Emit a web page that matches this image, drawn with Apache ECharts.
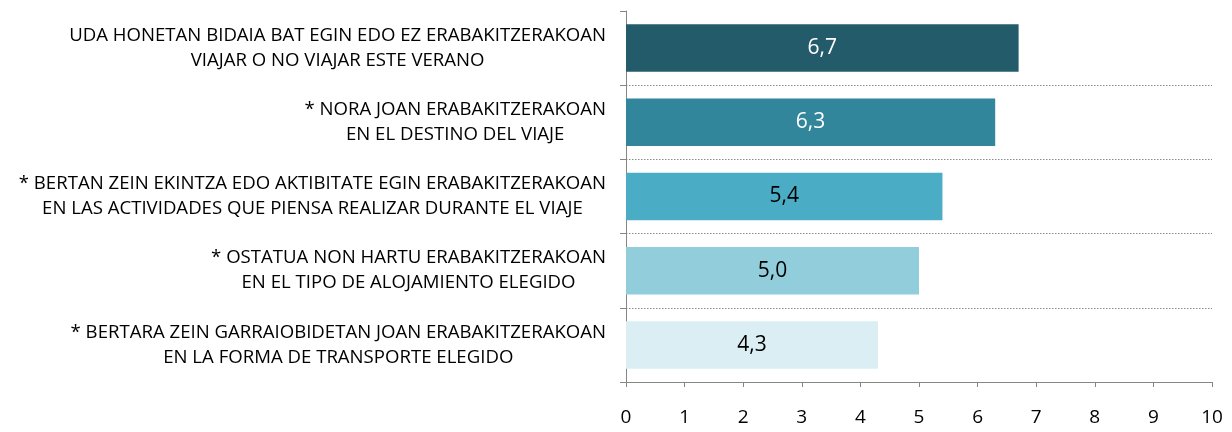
<!DOCTYPE html>
<html><head><meta charset="utf-8">
<script src="https://cdn.jsdelivr.net/npm/echarts@6/dist/echarts.min.js"></script>
<style>html,body{margin:0;padding:0;background:#fff}#c{width:1232px;height:432px}</style>
</head><body><div id="c"></div>
<script>
const categories = [
  "UDA HONETAN BIDAIA BAT EGIN EDO EZ ERABAKITZERAKOAN\nVIAJAR O NO VIAJAR ESTE VERANO",
  "* NORA JOAN ERABAKITZERAKOAN\nEN EL DESTINO DEL VIAJE",
  "* BERTAN ZEIN EKINTZA EDO AKTIBITATE EGIN ERABAKITZERAKOAN\nEN LAS ACTIVIDADES QUE PIENSA REALIZAR DURANTE EL VIAJE",
  "* OSTATUA NON HARTU ERABAKITZERAKOAN\nEN EL TIPO DE ALOJAMIENTO ELEGIDO",
  "* BERTARA ZEIN GARRAIOBIDETAN JOAN ERABAKITZERAKOAN\nEN LA FORMA DE TRANSPORTE ELEGIDO"
];
const values = [6.7, 6.3, 5.4, 5.0, 4.3];
const barColors = ["#235B6A", "#31869B", "#4BACC6", "#92CDDC", "#DAEEF3"];
const labelColors = ["#ffffff", "#ffffff", "#000000", "#000000", "#000000"];
const xTicks = [0,1,2,3,4,5,6,7,8,9,10];

const FONT = "'Open Sans', 'Liberation Sans', sans-serif";
const chart = echarts.init(document.getElementById('c'), null, {renderer:'canvas'});
chart.setOption({
  animation: false,
  grid: {left: 626, right: 20, top: 11, bottom: 50, containLabel: false},
  xAxis: {
    type: 'value', min: 0, max: 10, interval: 1,
    axisLine: {show: true, lineStyle: {color: '#868686', width: 1}},
    axisTick: {show: true, length: 5, lineStyle: {color: '#868686'}},
    splitLine: {show: false},
    axisLabel: {color: '#000', fontFamily: FONT, fontSize: 19, margin: 26,
      formatter: v => xTicks.includes(v) ? String(v) : ''}
  },
  yAxis: {
    type: 'category', data: categories, inverse: true,
    axisLine: {show: true, lineStyle: {color: '#868686', width: 1}},
    axisTick: {show: true, length: 6, lineStyle: {color: '#868686'}},
    splitLine: {show: true, interval: (i) => i !== 0, lineStyle: {color: '#8a8a8a', type: [1.5, 1.5], width: 1}},
    axisLabel: {
      margin: 20, align: 'right', fontFamily: FONT, fontSize: 18.6, color: '#000', lineHeight: 25,
      formatter: v => v.split('\n').map(l => '{c|' + l + '}').join('\n'),
      rich: {c: {align: 'center', fontFamily: FONT, fontSize: 18.6, color: '#000', lineHeight: 25}}
    }
  },
  series: [{
    type: 'bar',
    data: values.map((v, i) => ({value: v, itemStyle: {color: barColors[i]},
      label: {color: labelColors[i]}})),
    barCategoryGap: '36%',
    label: {show: true, position: 'inside', fontFamily: FONT, fontSize: 21,
      formatter: p => p.value.toFixed(1).replace('.', ',')}
  }]
});
</script></body></html>
